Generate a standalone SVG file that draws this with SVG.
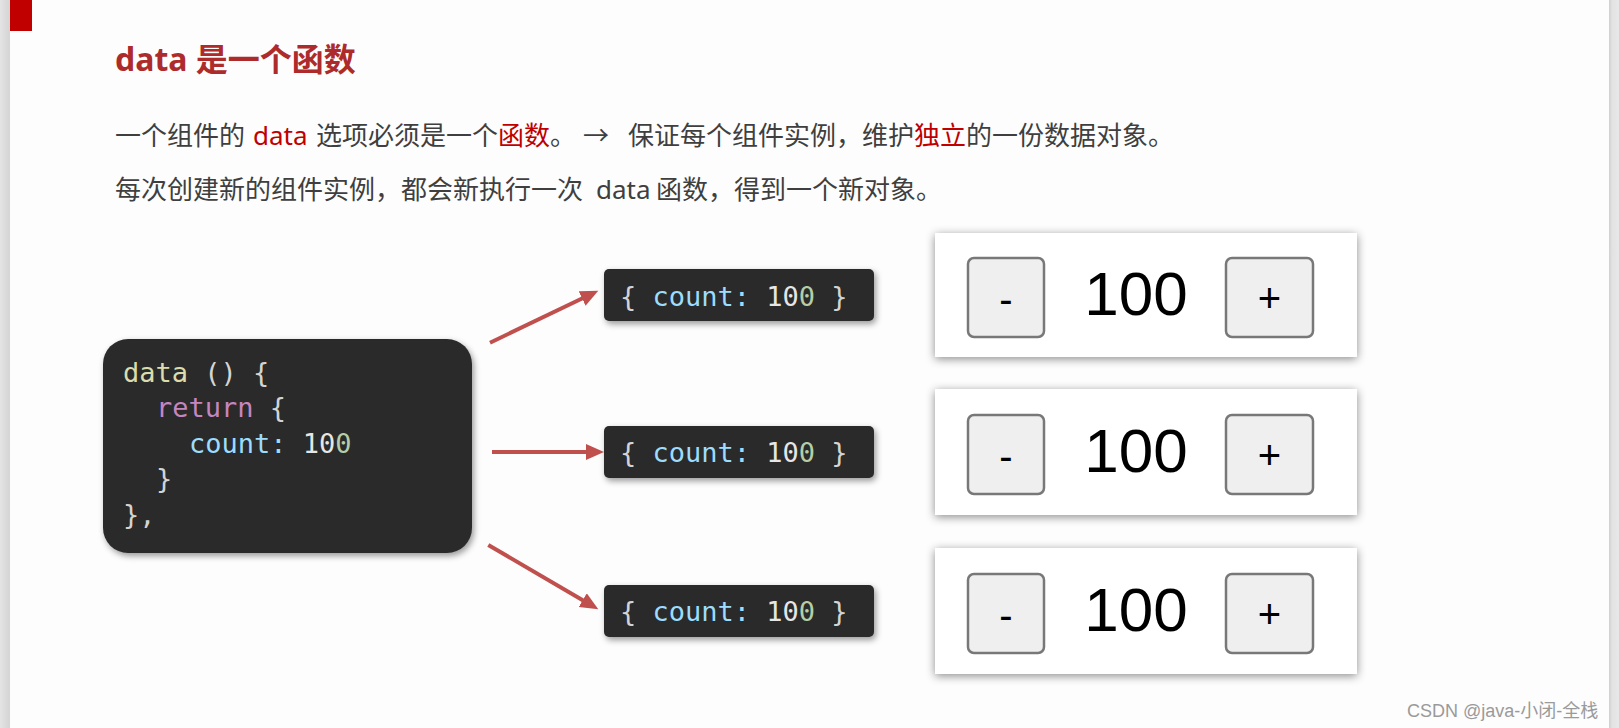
<svg xmlns="http://www.w3.org/2000/svg" width="1619" height="728" viewBox="0 0 1619 728">
<style>
.title{font-family:"Noto Sans","Noto Sans CJK SC",sans-serif;font-size:32px;font-weight:bold;fill:#ae2b2b}
.body{font-family:"Noto Sans","Noto Sans CJK SC",sans-serif;font-size:26px;fill:#3f3f3f}
.red{fill:#c00000}
.code{font-family:"DejaVu Sans Mono",monospace;font-size:27px;white-space:pre}
.p{fill:#d4d4d4}.fn{fill:#dcdcaa}.kw{fill:#c586c0}.prop{fill:#9cdcfe}.num{fill:#e6e6e6}.num2{fill:#b5cea8}
.dark{fill:#2b2b2b}
.panel{fill:#ffffff}
.btn{fill:#efefef;stroke:#787878;stroke-width:2.5}
.big{font-family:"Liberation Sans",Arial,sans-serif;font-size:62px;fill:#000;text-anchor:middle}
.sign{font-family:"Liberation Sans",Arial,sans-serif;font-size:40px;fill:#000;text-anchor:middle}
.arrow{stroke:#c0504d;stroke-width:4;fill:none}
.wm{font-family:"Liberation Sans","Noto Sans CJK SC",sans-serif;font-size:18px;fill:#9a9a9a}
</style>
<defs>
<filter id="sh1" x="-10%" y="-10%" width="125%" height="130%">
<feDropShadow dx="2" dy="3" stdDeviation="3" flood-color="#000" flood-opacity="0.4"/>
</filter>
<filter id="sh2" x="-10%" y="-20%" width="120%" height="145%">
<feDropShadow dx="0" dy="2" stdDeviation="5" flood-color="#000" flood-opacity="0.45"/>
</filter>
<linearGradient id="lstrip" x1="0" x2="1" y1="0" y2="0">
<stop offset="0" stop-color="#e4e4e4"/><stop offset="1" stop-color="#d4d4d4"/>
</linearGradient>
<linearGradient id="rstrip" x1="0" x2="1" y1="0" y2="0">
<stop offset="0" stop-color="#cfcfcf"/><stop offset="0.3" stop-color="#e2e2e2"/><stop offset="1" stop-color="#e8e8e8"/>
</linearGradient>
<marker id="ah" markerUnits="userSpaceOnUse" markerWidth="20" markerHeight="18" refX="4" refY="8" orient="auto">
<path d="M0,0 L18,8 L0,16 z" fill="#c0504d"/>
</marker>
</defs>

<rect x="0" y="0" width="1619" height="728" fill="#fdfdfd"/>
<rect x="0" y="0" width="10" height="728" fill="url(#lstrip)"/>
<rect x="1609" y="0" width="10" height="728" fill="url(#rstrip)"/>
<rect x="10" y="0" width="22" height="31" fill="#c00000"/>

<text class="title" x="115" y="71">data 是一个函数</text>

<text class="body" y="145"><tspan x="115">一个组件的</tspan><tspan x="253" class="red">data</tspan><tspan x="316">选项必须是一个</tspan><tspan x="498" class="red">函数</tspan><tspan x="550">。</tspan><tspan x="583">→</tspan><tspan x="628">保证每个组件实例，维护</tspan><tspan x="914" class="red">独立</tspan><tspan x="966">的一份数据对象。</tspan></text>
<text class="body" y="199"><tspan x="115">每次创建新的组件实例，都会新执行一次</tspan><tspan x="596">data</tspan><tspan x="656">函数，得到一个新对象。</tspan></text>

<g id="code-node">
<rect x="103" y="339" width="369" height="214" rx="25" class="dark" filter="url(#sh1)"/>
<text class="code" x="123" y="382"><tspan class="fn">data</tspan><tspan class="p"> () {</tspan></text>
<text class="code" x="156" y="417"><tspan class="kw">return</tspan><tspan class="p"> {</tspan></text>
<text class="code" x="189" y="453"><tspan class="prop">count:</tspan><tspan class="num"> 10</tspan><tspan class="num2">0</tspan></text>
<text class="code p" x="156" y="488">}</text>
<text class="code p" x="123" y="524">},</text>
</g>

<g id="obj1">
<rect x="604" y="269" width="270" height="52" rx="5" class="dark" filter="url(#sh1)"/>
<text class="code" x="620" y="306"><tspan class="p">{ </tspan><tspan class="prop">count:</tspan><tspan class="num"> 10</tspan><tspan class="num2">0</tspan><tspan class="p"> }</tspan></text>
</g>
<g id="obj2">
<rect x="604" y="426" width="270" height="52" rx="5" class="dark" filter="url(#sh1)"/>
<text class="code" x="620" y="462"><tspan class="p">{ </tspan><tspan class="prop">count:</tspan><tspan class="num"> 10</tspan><tspan class="num2">0</tspan><tspan class="p"> }</tspan></text>
</g>
<g id="obj3">
<rect x="604" y="585" width="270" height="52" rx="5" class="dark" filter="url(#sh1)"/>
<text class="code" x="620" y="621"><tspan class="p">{ </tspan><tspan class="prop">count:</tspan><tspan class="num"> 10</tspan><tspan class="num2">0</tspan><tspan class="p"> }</tspan></text>
</g>

<g id="connectors">
<line class="arrow" x1="490" y1="342.7" x2="585.7" y2="296.8" marker-end="url(#ah)"/>
<line class="arrow" x1="492" y1="452" x2="590" y2="452" marker-end="url(#ah)"/>
<line class="arrow" x1="488.3" y1="545" x2="586.2" y2="602.2" marker-end="url(#ah)"/>
</g>

<g id="counter1">
<rect x="935" y="233" width="422" height="124" class="panel" filter="url(#sh2)"/>
<rect x="968" y="258" width="76" height="79" rx="6" class="btn"/>
<rect x="1226" y="258" width="87" height="79" rx="6" class="btn"/>
<text class="sign" x="1006" y="313">-</text>
<text class="big" x="1136" y="315">100</text>
<text class="sign" x="1269.5" y="312">+</text>
</g>
<g id="counter2">
<rect x="935" y="389" width="422" height="126" class="panel" filter="url(#sh2)"/>
<rect x="968" y="415" width="76" height="79" rx="6" class="btn"/>
<rect x="1226" y="415" width="87" height="79" rx="6" class="btn"/>
<text class="sign" x="1006" y="470">-</text>
<text class="big" x="1136" y="472">100</text>
<text class="sign" x="1269.5" y="469">+</text>
</g>
<g id="counter3">
<rect x="935" y="548" width="422" height="126" class="panel" filter="url(#sh2)"/>
<rect x="968" y="574" width="76" height="79" rx="6" class="btn"/>
<rect x="1226" y="574" width="87" height="79" rx="6" class="btn"/>
<text class="sign" x="1006" y="629">-</text>
<text class="big" x="1136" y="631">100</text>
<text class="sign" x="1269.5" y="628">+</text>
</g>

<text class="wm" x="1407" y="717">CSDN @java-小闭-全栈</text>
</svg>
